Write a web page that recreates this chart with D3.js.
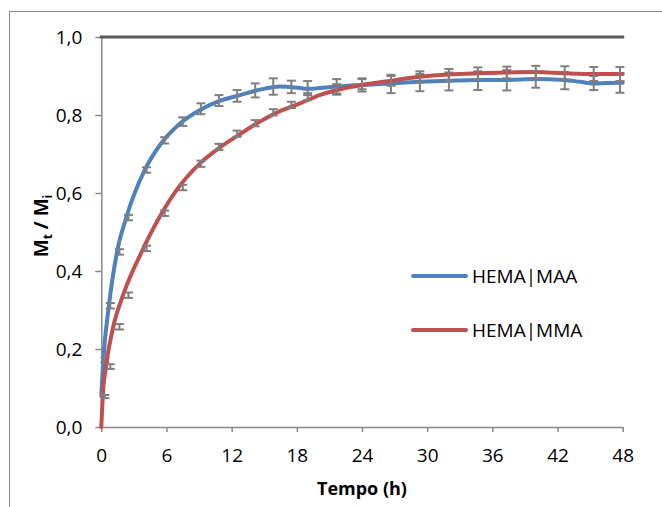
<!DOCTYPE html>
<html>
<head>
<meta charset="utf-8">
<script src="https://cdn.jsdelivr.net/npm/d3@7/dist/d3.min.js"></script>
<style>
  html, body { margin: 0; padding: 0; background: #fff; }
  svg { display: block; font-family: "Open Sans", "Noto Sans", sans-serif; }
</style>
</head>
<body>
<svg id="chart" width="662" height="507"></svg>
<script>
// Release fraction Mt/Mi over time for the two hydrogels
const timeTicks = [0, 6, 12, 18, 24, 30, 36, 42, 48];
const valueTicks = [0, 0.2, 0.4, 0.6, 0.8, 1.0];

// Continuous release curves: [time (h), Mt/Mi]
const maaCurve = [
  [0, 0.08], [0.18, 0.17], [0.7, 0.311], [1.45, 0.449], [2.3, 0.537],
  [4.0, 0.659], [5.4, 0.723], [7.25, 0.778], [9.09, 0.813], [10.9, 0.836],
  [12.77, 0.851], [14.6, 0.865], [16.45, 0.873], [18.3, 0.869], [19.06, 0.867],
  [20.1, 0.869], [21.7, 0.873], [24, 0.877], [26.7, 0.881], [29.3, 0.885],
  [32, 0.888], [34.65, 0.89], [37.3, 0.89], [40, 0.892], [42.6, 0.89],
  [44.1, 0.885], [45.3, 0.881], [46.5, 0.882], [48, 0.883]
];
const mmaCurve = [
  [0, 0], [0.13, 0.078], [0.43, 0.155], [1.1, 0.257], [2.0, 0.338],
  [3.87, 0.458], [5.56, 0.548], [6.94, 0.608], [9.09, 0.676], [10.93, 0.717],
  [12.77, 0.751], [14.6, 0.783], [16.45, 0.81], [18.3, 0.83], [20.1, 0.851],
  [22, 0.866], [24, 0.877], [26.7, 0.888], [29.3, 0.898], [32, 0.904],
  [34.65, 0.907], [37.3, 0.909], [40, 0.91], [42.6, 0.907], [45.3, 0.905],
  [48, 0.905]
];

// Sampled points with standard deviation: time (h), mean, error
const sampleTimes = [0.33, 0.83, 1.67, 2.5, 4.17, 5.83, 7.5, 9.17, 10.83, 12.5,
  14.17, 15.83, 17.5, 19.0, 21.67, 24.0, 26.67, 29.33, 32.0, 34.67, 37.33, 40.0,
  42.67, 45.33, 47.75];
const maaMean = [0.172, 0.311, 0.449, 0.537, 0.659, 0.735, 0.783, 0.816, 0.837, 0.849,
  0.863, 0.873, 0.872, 0.869, 0.872, 0.877, 0.878, 0.883, 0.886, 0.888, 0.889, 0.89,
  0.888, 0.882, 0.882];
const maaErr = [0.006, 0.007, 0.007, 0.007, 0.007, 0.008, 0.011, 0.014, 0.014, 0.015,
  0.018, 0.021, 0.016, 0.018, 0.02, 0.017, 0.022, 0.022, 0.023, 0.024, 0.026, 0.02,
  0.022, 0.018, 0.025];
const mmaMean = [0.078, 0.155, 0.257, 0.338, 0.458, 0.548, 0.614, 0.675, 0.718, 0.752,
  0.779, 0.807, 0.826, 0.847, 0.867, 0.879, 0.889, 0.898, 0.904, 0.907, 0.909, 0.91,
  0.908, 0.905, 0.905];
const mmaErr = [0.004, 0.006, 0.007, 0.007, 0.007, 0.007, 0.007, 0.008, 0.008, 0.008,
  0.008, 0.008, 0.008, 0.009, 0.012, 0.013, 0.014, 0.014, 0.014, 0.015, 0.015, 0.016,
  0.017, 0.018, 0.018];

// Reference level (complete release)
const referenceLine = [[0, 1], [48, 1]];

const seriesNames = ["HEMA|MAA", "HEMA|MMA"];
const seriesColors = ["#4F81BD", "#C0504D"];

const svg = d3.select("#chart");
const plot = { left: 101.3, right: 622.7, top: 37, bottom: 427 };

const x = d3.scaleLinear().domain([0, 48]).range([plot.left, plot.right]);
const y = d3.scaleLinear().domain([0, 1]).range([plot.bottom, plot.top]);

const ptLocale = d3.formatLocale({ decimal: ",", thousands: ".", grouping: [3], currency: ["", " €"] });
const fmt = ptLocale.format(".1f");

// Outer chart frame
svg.append("rect")
  .attr("x", 9.5).attr("y", 11.5)
  .attr("width", 700).attr("height", 600)
  .attr("fill", "none").attr("stroke", "#8c8c8c").attr("stroke-width", 1);

const axisColor = "#898989";

// Y axis
const yAxis = svg.append("g")
  .attr("transform", `translate(${plot.left},0)`)
  .call(d3.axisLeft(y).tickValues(valueTicks).tickFormat(fmt).tickSize(6).tickSizeOuter(0).tickPadding(13));
yAxis.select(".domain").attr("stroke", axisColor).attr("stroke-width", 1.5);
yAxis.selectAll(".tick line").attr("stroke", axisColor).attr("stroke-width", 1.5);
yAxis.selectAll(".tick text")
  .attr("font-size", 19).attr("fill", "#000")
  .attr("font-family", "'Open Sans', sans-serif");

// X axis
const xAxis = svg.append("g")
  .attr("transform", `translate(0,${plot.bottom})`)
  .call(d3.axisBottom(x).tickValues(timeTicks).tickFormat(d3.format("d")).tickSize(5).tickSizeOuter(0).tickPadding(8));
xAxis.select(".domain").attr("stroke", axisColor).attr("stroke-width", 1.5);
xAxis.selectAll(".tick line").attr("stroke", axisColor).attr("stroke-width", 1.5);
xAxis.selectAll(".tick text")
  .attr("font-size", 19).attr("fill", "#000")
  .attr("font-family", "'Open Sans', sans-serif")
  .attr("y", 35).attr("dy", 0);

// Axis titles
svg.append("text")
  .attr("x", (plot.left + plot.right) / 2).attr("y", 495)
  .attr("text-anchor", "middle")
  .attr("font-size", 18).attr("font-weight", "bold").attr("fill", "#000")
  .text("Tempo (h)");

const yTitle = svg.append("text")
  .attr("transform", "translate(48,226) rotate(-90)")
  .attr("text-anchor", "middle")
  .attr("font-size", 19).attr("font-weight", "bold").attr("fill", "#000");
yTitle.append("tspan").text("M");
yTitle.append("tspan").attr("font-size", 12).attr("dy", 4).text("t");
yTitle.append("tspan").attr("dy", -4).text(" / M");
yTitle.append("tspan").attr("font-size", 12).attr("dy", 4).text("i");

// Reference line at Mt/Mi = 1
svg.append("path")
  .datum(referenceLine)
  .attr("fill", "none").attr("stroke", "#595959").attr("stroke-width", 3)
  .attr("stroke-linecap", "square")
  .attr("d", d3.line().x(d => x(d[0])).y(d => y(d[1])));

const line = d3.line()
  .x(d => x(d[0])).y(d => y(d[1]))
  .curve(d3.curveMonotoneX);

function drawSeries(curve, means, errs, color) {
  svg.append("path")
    .datum(curve)
    .attr("fill", "none").attr("stroke", color).attr("stroke-width", 4)
    .attr("stroke-linejoin", "round").attr("stroke-linecap", "round")
    .attr("d", line);

  const pts = sampleTimes.map((t, i) => ({ t, m: means[i], e: errs[i] }));
  const g = svg.append("g").attr("stroke", "#7f7f7f").attr("stroke-width", 2);
  const cap = 4.5;
  g.selectAll("line.stem").data(pts).join("line")
    .attr("class", "stem")
    .attr("x1", d => x(d.t)).attr("x2", d => x(d.t))
    .attr("y1", d => y(d.m - d.e)).attr("y2", d => y(d.m + d.e));
  g.selectAll("line.top").data(pts).join("line")
    .attr("class", "top")
    .attr("x1", d => x(d.t) - cap).attr("x2", d => x(d.t) + cap)
    .attr("y1", d => y(d.m + d.e)).attr("y2", d => y(d.m + d.e));
  g.selectAll("line.bottom").data(pts).join("line")
    .attr("class", "bottom")
    .attr("x1", d => x(d.t) - cap).attr("x2", d => x(d.t) + cap)
    .attr("y1", d => y(d.m - d.e)).attr("y2", d => y(d.m - d.e));
}

drawSeries(maaCurve, maaMean, maaErr, seriesColors[0]);
drawSeries(mmaCurve, mmaMean, mmaErr, seriesColors[1]);

// Legend
const legend = svg.append("g");
const legendRows = [276, 330];
seriesNames.forEach((name, i) => {
  legend.append("line")
    .attr("x1", 413).attr("x2", 466)
    .attr("y1", legendRows[i]).attr("y2", legendRows[i])
    .attr("stroke", seriesColors[i]).attr("stroke-width", 4)
    .attr("stroke-linecap", "round");
  legend.append("text")
    .attr("x", 472).attr("y", legendRows[i] + 7)
    .attr("font-size", 19).attr("fill", "#000")
    .text(name);
});
</script>
</body>
</html>
